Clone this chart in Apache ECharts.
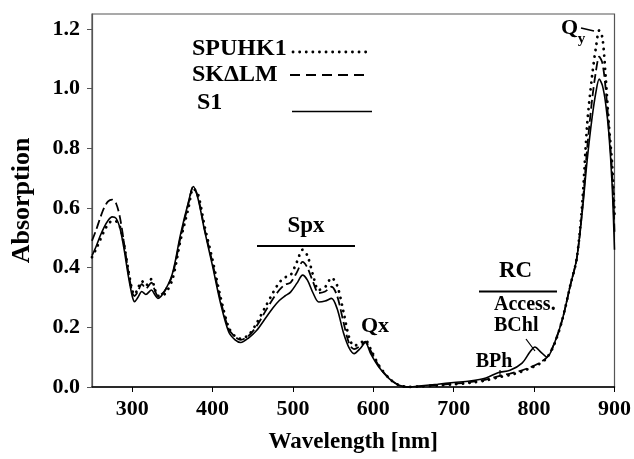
<!DOCTYPE html>
<html>
<head>
<meta charset="utf-8">
<script src="https://cdn.jsdelivr.net/npm/echarts@6/dist/echarts.min.js"></script>
<style>
  html, body { margin: 0; padding: 0; background: #fff; }
  #chart { width: 634px; height: 459px; }
</style>
</head>
<body>
<div id="chart"></div>
<script>
// Wavelength grid (nm) shared by the three absorption spectra
const wavelengths = [
  250, 255, 260, 265, 270, 275, 280, 285, 290, 295,
  300, 303, 307, 312, 317, 324, 328, 332, 340, 350,
  360, 370, 376, 382, 390, 400, 410, 420, 428, 435,
  445, 455, 466, 475, 483, 490, 497, 505, 512, 518,
  525, 532, 540, 548, 555, 563, 570, 576, 584, 590,
  597, 607, 620, 632, 645, 660, 680, 700, 720, 740,
  755, 770, 785, 795, 801, 808, 816, 825, 835, 845,
  853, 860, 866, 872, 877, 881, 885, 889, 893, 897,
  900
];

// SPUHK1 (dotted)
const spuhk1 = [
  0.435, 0.462, 0.492, 0.522, 0.545, 0.556, 0.555, 0.535, 0.475, 0.395,
  0.325, 0.31, 0.33, 0.355, 0.34, 0.362, 0.33, 0.305, 0.31, 0.36,
  0.49, 0.60, 0.665, 0.645, 0.54, 0.425, 0.30, 0.20, 0.17, 0.162,
  0.175, 0.215, 0.27, 0.315, 0.35, 0.367, 0.375, 0.42, 0.46, 0.44,
  0.375, 0.325, 0.335, 0.366, 0.34, 0.25, 0.165, 0.138, 0.148, 0.157,
  0.125, 0.072, 0.028, 0.006, 0.0, 0.002, 0.005, 0.009, 0.014, 0.022,
  0.032, 0.04, 0.052, 0.063, 0.07, 0.08, 0.098, 0.142, 0.225, 0.34,
  0.43, 0.62, 0.88, 1.04, 1.14, 1.195, 1.17, 1.04, 0.88, 0.75,
  0.58
];

// SKΔLM (dashed)
const skdlm = [
  0.49, 0.525, 0.565, 0.6, 0.622, 0.628, 0.615, 0.565, 0.48, 0.39,
  0.318, 0.305, 0.32, 0.345, 0.33, 0.35, 0.325, 0.305, 0.32, 0.375,
  0.50, 0.615, 0.672, 0.635, 0.53, 0.415, 0.29, 0.195, 0.168, 0.158,
  0.172, 0.205, 0.255, 0.295, 0.325, 0.343, 0.35, 0.385, 0.419, 0.40,
  0.352, 0.315, 0.32, 0.336, 0.305, 0.215, 0.145, 0.127, 0.138, 0.152,
  0.12, 0.07, 0.028, 0.006, 0.0, 0.003, 0.007, 0.011, 0.016, 0.025,
  0.036, 0.045, 0.056, 0.066, 0.073, 0.083, 0.1, 0.145, 0.225, 0.34,
  0.43, 0.60, 0.80, 0.96, 1.06, 1.107, 1.085, 1.0, 0.87, 0.72,
  0.52
];

// S1 (solid)
const s1 = [
  0.44, 0.47, 0.505, 0.535, 0.558, 0.57, 0.565, 0.53, 0.46, 0.375,
  0.305, 0.286, 0.30, 0.32, 0.31, 0.325, 0.31, 0.297, 0.32, 0.38,
  0.51, 0.62, 0.672, 0.63, 0.525, 0.405, 0.28, 0.185, 0.158, 0.149,
  0.165, 0.19, 0.231, 0.265, 0.29, 0.305, 0.318, 0.348, 0.375, 0.358,
  0.315, 0.285, 0.288, 0.297, 0.262, 0.18, 0.13, 0.112, 0.13, 0.149,
  0.11, 0.066, 0.027, 0.006, 0.0, 0.004, 0.009, 0.015, 0.02, 0.03,
  0.048, 0.056, 0.08, 0.118, 0.134, 0.118, 0.1, 0.145, 0.225, 0.34,
  0.43, 0.59, 0.76, 0.90, 0.99, 1.032, 1.01, 0.95, 0.85, 0.68,
  0.46
];

const seriesNames = ['SPUHK1', 'SK\u0394LM', 'S1'];
const xTicks = [300, 400, 500, 600, 700, 800, 900];
const yTicks = [0, 0.2, 0.4, 0.6, 0.8, 1.0, 1.2];

const FONT = '"Liberation Serif", "Times New Roman", serif';

function pairs(values) {
  return wavelengths.map((w, i) => [w, values[i]]);
}

const chart = echarts.init(document.getElementById('chart'), null, { renderer: 'canvas' });

function txt(text, x, y, size, align) {
  return {
    type: 'text', x: x, y: y, silent: true,
    style: {
      text: text, fill: '#000', font: 'bold ' + size + 'px ' + FONT,
      align: align || 'center', verticalAlign: 'middle'
    }
  };
}
function seg(x1, y1, x2, y2, w, dash) {
  return {
    type: 'line', silent: true,
    shape: { x1: x1, y1: y1, x2: x2, y2: y2 },
    style: { stroke: '#000', lineWidth: w, lineDash: dash || null, lineCap: dash && dash[0] < 1 ? 'round' : 'butt' }
  };
}

const option = {
  animation: false,
  backgroundColor: '#fff',
  grid: {
    left: 92, right: 18, top: 14, bottom: 66,
    show: true, borderColor: '#555', borderWidth: 1.2, backgroundColor: 'transparent'
  },
  xAxis: {
    type: 'value', min: 250, max: 900,
    name: 'Wavelength [nm]', nameLocation: 'middle', nameGap: 44,
    nameTextStyle: { fontFamily: FONT, fontWeight: 'bold', fontSize: 23, color: '#000' },
    axisLine: { show: true, lineStyle: { color: '#000', width: 1.5 } },
    axisTick: { show: true, customValues: xTicks, length: 5, lineStyle: { color: '#000', width: 1 } },
    axisLabel: {
      customValues: xTicks, margin: 11,
      fontFamily: FONT, fontWeight: 'bold', fontSize: 22, color: '#000'
    },
    splitLine: { show: false }
  },
  yAxis: {
    type: 'value', min: 0, max: 1.25,
    name: 'Absorption', nameLocation: 'middle', nameGap: 57, nameRotate: 90,
    nameTextStyle: { fontFamily: FONT, fontWeight: 'bold', fontSize: 26, color: '#000' },
    axisLine: { show: true, lineStyle: { color: '#555', width: 1.2 } },
    axisTick: { show: true, customValues: yTicks, length: 5, lineStyle: { color: '#555', width: 1 } },
    axisLabel: {
      customValues: yTicks, margin: 12,
      formatter: v => v.toFixed(1),
      fontFamily: FONT, fontWeight: 'bold', fontSize: 22, color: '#000'
    },
    splitLine: { show: false }
  },
  series: [
    {
      name: seriesNames[0], type: 'line', data: pairs(spuhk1),
      showSymbol: false, smooth: 0.3,
      lineStyle: { color: '#000', width: 2.8, type: [0.1, 6.5], cap: 'round' }
    },
    {
      name: seriesNames[1], type: 'line', data: pairs(skdlm),
      showSymbol: false, smooth: 0.3,
      lineStyle: { color: '#000', width: 1.8, type: [9, 4] }
    },
    {
      name: seriesNames[2], type: 'line', data: pairs(s1),
      showSymbol: false, smooth: 0.3,
      lineStyle: { color: '#000', width: 1.6, type: 'solid' }
    }
  ],
  graphic: [
    // key
    txt(seriesNames[0], 192, 49, 24, 'left'),
    seg(293, 52, 370, 52, 2.8, [0.1, 6.5]),
    txt(seriesNames[1], 192, 75, 24, 'left'),
    seg(290, 75, 370, 75, 1.8, [10, 6]),
    txt(seriesNames[2], 197, 103, 24, 'left'),
    seg(292, 111.5, 372, 111.5, 1.6),
    // band labels
    txt('Spx', 306, 226, 23),
    seg(257, 246, 355, 246, 2),
    txt('Qx', 375, 326, 22),
    txt('RC', 515.5, 271.5, 23),
    seg(479, 291.5, 557, 291.5, 2),
    txt('Access.', 494, 305, 20, 'left'),
    txt('BChl', 494, 326, 20, 'left'),
    seg(526, 339, 535, 351, 1.2),
    txt('BPh', 494, 362, 20),
    seg(500, 370, 500, 377, 1.2),
    txt('Q', 569.5, 28, 22),
    txt('y', 581.5, 39, 15),
    seg(581, 28, 594, 31, 1.5)
  ]
};

chart.setOption(option);
</script>
</body>
</html>
